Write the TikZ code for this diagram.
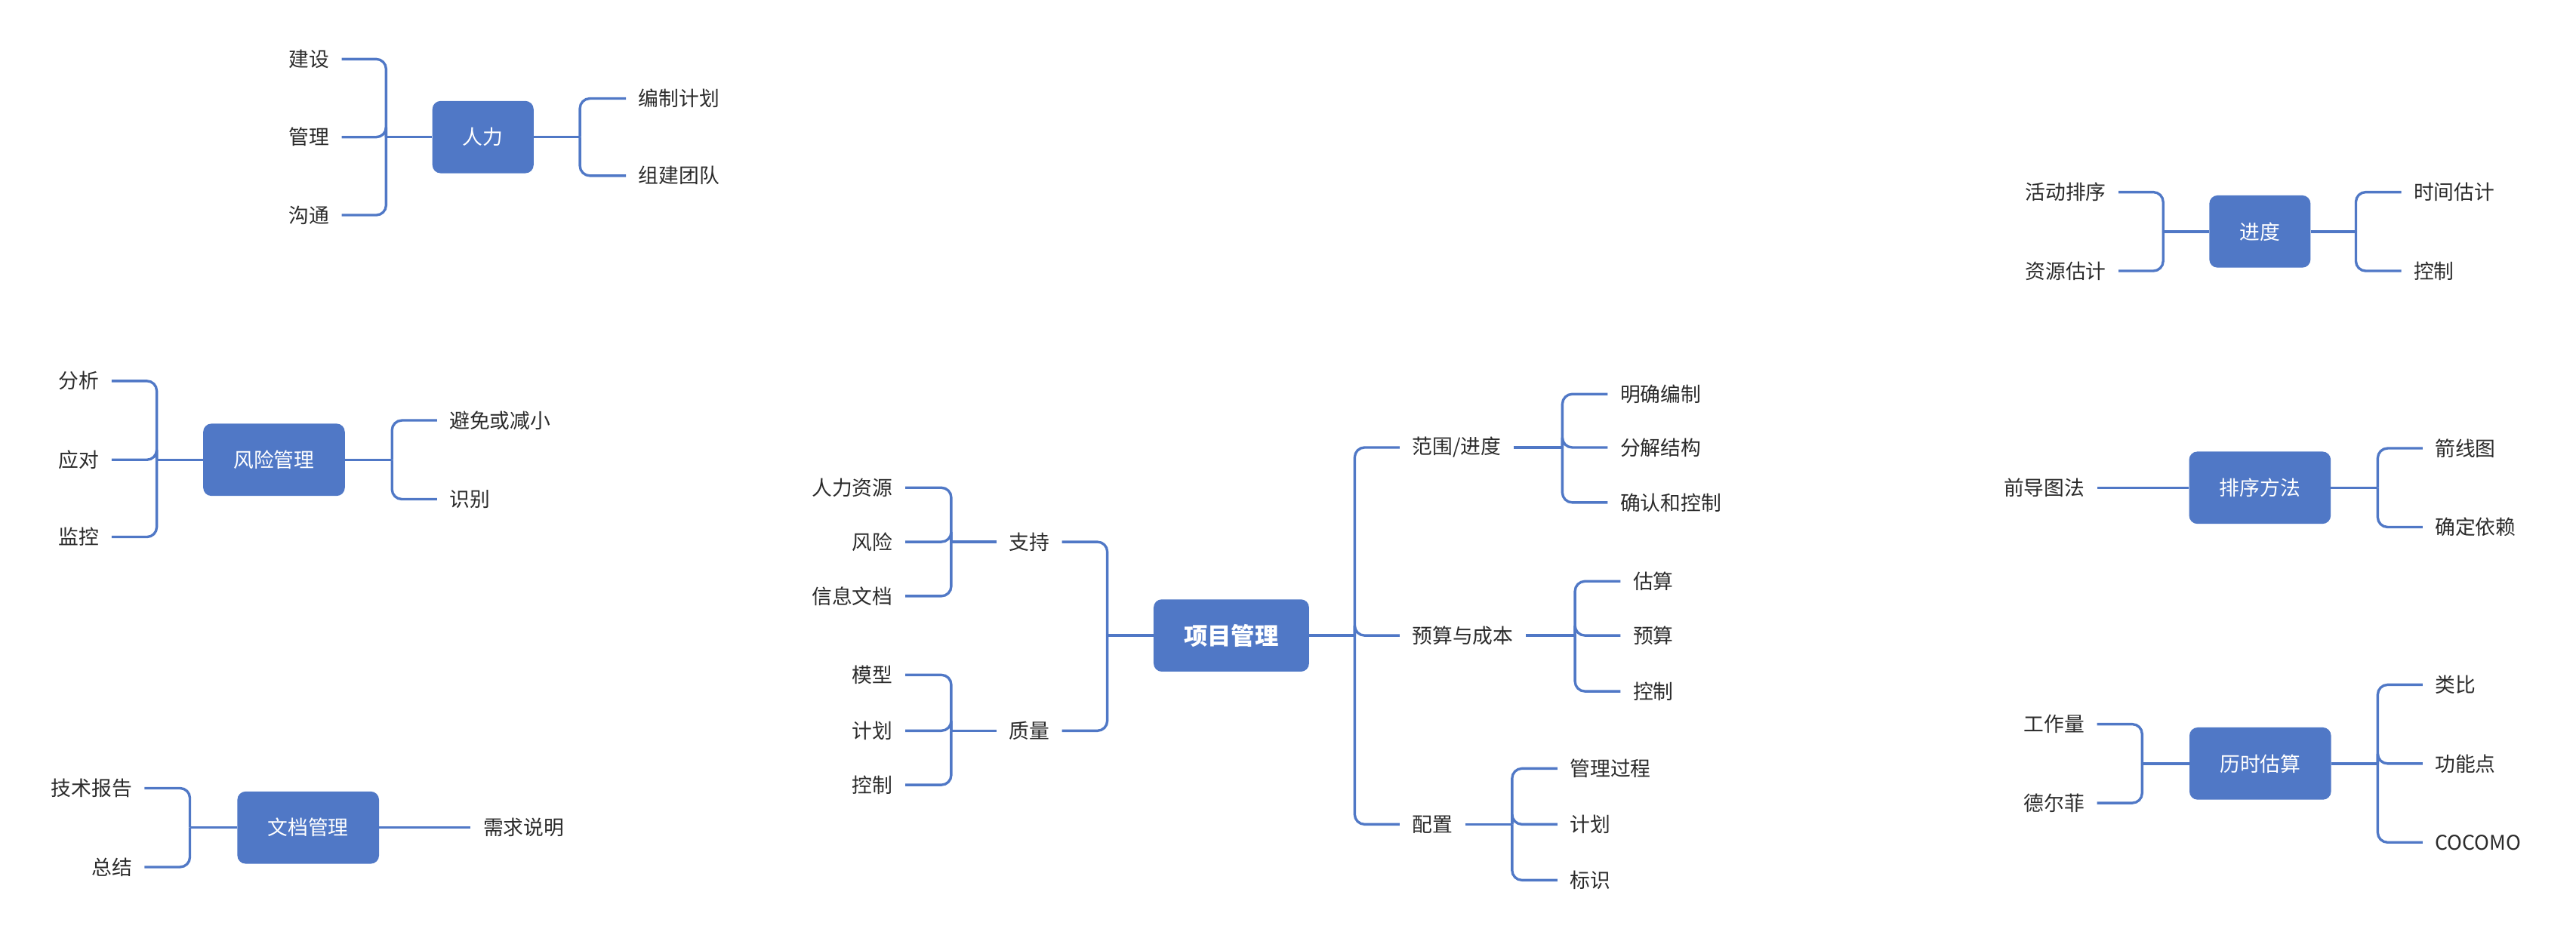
\documentclass[tikz,border=0pt]{standalone}
\usepackage{fontspec}
\setmainfont{Noto Sans CJK SC}
\usepackage{xcolor}
\usepackage{tikz}
\definecolor{mapblue}{HTML}{5078C6}
\definecolor{maptext}{HTML}{2B2B2B}
\tikzset{
  hub/.style={fill=mapblue, rounded corners=2.5mm, minimum height=22mm, inner xsep=9.25mm, text=white, font=\fontsize{17.5pt}{20pt}\selectfont},
  rootbox/.style={hub, font=\fontsize{20.5pt}{24pt}\selectfont\bfseries},
  leaf/.style={inner xsep=3.75mm, inner ysep=0pt, text=maptext, font=\fontsize{17.5pt}{20pt}\selectfont},
  branch/.style={draw=mapblue, line width=2.2pt, rounded corners=3mm}
}
\begin{document}
\begin{tikzpicture}[x=0.5mm, y=-0.5mm]
  \useasboundingbox (0,0) rectangle (1568,571);

  % 人力
  \node[hub] (staff) at (294,83.5) {人力};
  \node[leaf, anchor=east] (staffa) at (208,36) {建设};
  \node[leaf, anchor=east] (staffb) at (208,83.5) {管理};
  \node[leaf, anchor=east] (staffc) at (208,131) {沟通};
  \node[leaf, anchor=west] (staffd) at (381,60) {编制计划};
  \node[leaf, anchor=west] (staffe) at (381,107) {组建团队};
  \coordinate (staffL) at (235,83.5);
  \coordinate (staffR) at (353,83.5);
  \draw[branch] (staff.west) -- (staffL);
  \draw[branch] (staffL) |- (staffa.east);
  \draw[branch] (staffL) |- (staffb.east);
  \draw[branch] (staffL) |- (staffc.east);
  \draw[branch] (staff.east) -- (staffR);
  \draw[branch] (staffR) |- (staffd.west);
  \draw[branch] (staffR) |- (staffe.west);

  % 风险管理
  \node[hub] (risk) at (166.8,280) {风险管理};
  \node[leaf, anchor=east] (riska) at (68,232) {分析};
  \node[leaf, anchor=east] (riskb) at (68,280) {应对};
  \node[leaf, anchor=east] (riskc) at (68,327) {监控};
  \node[leaf, anchor=west] (riskd) at (266,256) {避免或减小};
  \node[leaf, anchor=west] (riske) at (266,304) {识别};
  \coordinate (riskL) at (95.4,280);
  \coordinate (riskR) at (238.6,280);
  \draw[branch] (risk.west) -- (riskL);
  \draw[branch] (riskL) |- (riska.east);
  \draw[branch] (riskL) |- (riskb.east);
  \draw[branch] (riskL) |- (riskc.east);
  \draw[branch] (risk.east) -- (riskR);
  \draw[branch] (riskR) |- (riskd.west);
  \draw[branch] (riskR) |- (riske.west);

  % 文档管理
  \node[hub] (docs) at (187.6,504) {文档管理};
  \node[leaf, anchor=east] (docsa) at (88,480) {技术报告};
  \node[leaf, anchor=east] (docsb) at (88,528) {总结};
  \node[leaf, anchor=west] (docsc) at (286.5,504) {需求说明};
  \coordinate (docsL) at (115.6,504);
  \draw[branch] (docs.west) -- (docsL);
  \draw[branch] (docsL) |- (docsa.east);
  \draw[branch] (docsL) |- (docsb.east);
  \draw[branch] (docs.east) -- (docsc.west);

  % 项目管理
  \node[hub, rootbox] (pm) at (749.5,387) {项目管理};
  \node[leaf, anchor=west] (support) at (606.5,330) {支持};
  \node[leaf, anchor=west] (quality) at (606.5,445) {质量};
  \node[leaf, anchor=west] (scope) at (852,272.5) {范围/进度};
  \node[leaf, anchor=west] (cost) at (852,387) {预算与成本};
  \node[leaf, anchor=west] (config) at (852,502) {配置};
  \coordinate (pmL) at (674,387);
  \coordinate (pmR) at (824.6,387);
  \draw[branch] (pm.west) -- (pmL);
  \draw[branch] (pmL) |- (support.east);
  \draw[branch] (pmL) |- (quality.east);
  \draw[branch] (pm.east) -- (pmR);
  \draw[branch] (pmR) |- (scope.west);
  \draw[branch] (pmR) |- (cost.west);
  \draw[branch] (pmR) |- (config.west);

  \node[leaf, anchor=east] (supporta) at (551,297) {人力资源};
  \node[leaf, anchor=east] (supportb) at (551,330) {风险};
  \node[leaf, anchor=east] (supportc) at (551,363) {信息文档};
  \coordinate (supportL) at (579,330);
  \draw[branch] (support.west) -- (supportL);
  \draw[branch] (supportL) |- (supporta.east);
  \draw[branch] (supportL) |- (supportb.east);
  \draw[branch] (supportL) |- (supportc.east);

  \node[leaf, anchor=east] (qualitya) at (551,411) {模型};
  \node[leaf, anchor=east] (qualityb) at (551,445) {计划};
  \node[leaf, anchor=east] (qualityc) at (551,478) {控制};
  \coordinate (qualityL) at (579,445);
  \draw[branch] (quality.west) -- (qualityL);
  \draw[branch] (qualityL) |- (qualitya.east);
  \draw[branch] (qualityL) |- (qualityb.east);
  \draw[branch] (qualityL) |- (qualityc.east);

  \node[leaf, anchor=west] (scopea) at (978.6,240) {明确编制};
  \node[leaf, anchor=west] (scopeb) at (978.6,272.5) {分解结构};
  \node[leaf, anchor=west] (scopec) at (978.6,306) {确认和控制};
  \coordinate (scopeR) at (951,272.5);
  \draw[branch] (scope.east) -- (scopeR);
  \draw[branch] (scopeR) |- (scopea.west);
  \draw[branch] (scopeR) |- (scopeb.west);
  \draw[branch] (scopeR) |- (scopec.west);

  \node[leaf, anchor=west] (costa) at (986.4,354) {估算};
  \node[leaf, anchor=west] (costb) at (986.4,387) {预算};
  \node[leaf, anchor=west] (costc) at (986.4,421) {控制};
  \coordinate (costR) at (958.7,387);
  \draw[branch] (cost.east) -- (costR);
  \draw[branch] (costR) |- (costa.west);
  \draw[branch] (costR) |- (costb.west);
  \draw[branch] (costR) |- (costc.west);

  \node[leaf, anchor=west] (configa) at (948,468) {管理过程};
  \node[leaf, anchor=west] (configb) at (948,502) {计划};
  \node[leaf, anchor=west] (configc) at (948,536) {标识};
  \coordinate (configR) at (920.4,502);
  \draw[branch] (config.east) -- (configR);
  \draw[branch] (configR) |- (configa.west);
  \draw[branch] (configR) |- (configb.west);
  \draw[branch] (configR) |- (configc.west);

  % 进度
  \node[hub] (sched) at (1375.6,141) {进度};
  \node[leaf, anchor=east] (scheda) at (1289.6,117) {活动排序};
  \node[leaf, anchor=east] (schedb) at (1289.6,165) {资源估计};
  \node[leaf, anchor=west] (schedc) at (1461.6,117) {时间估计};
  \node[leaf, anchor=west] (schedd) at (1461.6,165) {控制};
  \coordinate (schedL) at (1316.7,141);
  \coordinate (schedR) at (1434,141);
  \draw[branch] (sched.west) -- (schedL);
  \draw[branch] (schedL) |- (scheda.east);
  \draw[branch] (schedL) |- (schedb.east);
  \draw[branch] (sched.east) -- (schedR);
  \draw[branch] (schedR) |- (schedc.west);
  \draw[branch] (schedR) |- (schedd.west);

  % 排序方法
  \node[hub] (order) at (1375.6,297) {排序方法};
  \node[leaf, anchor=east] (ordera) at (1276.5,297) {前导图法};
  \node[leaf, anchor=west] (orderb) at (1474.6,273) {箭线图};
  \node[leaf, anchor=west] (orderc) at (1474.6,321) {确定依赖};
  \coordinate (orderR) at (1447.3,297);
  \draw[branch] (order.west) -- (ordera.east);
  \draw[branch] (order.east) -- (orderR);
  \draw[branch] (orderR) |- (orderb.west);
  \draw[branch] (orderR) |- (orderc.west);

  % 历时估算
  \node[hub] (dur) at (1375.8,465) {历时估算};
  \node[leaf, anchor=east] (dura) at (1276.5,441) {工作量};
  \node[leaf, anchor=east] (durb) at (1276.5,489) {德尔菲};
  \node[leaf, anchor=west] (durc) at (1474.6,417) {类比};
  \node[leaf, anchor=west] (durd) at (1474.6,465) {功能点};
  \node[leaf, anchor=west] (dure) at (1474.6,513) {COCOMO};
  \coordinate (durL) at (1303.9,465);
  \coordinate (durR) at (1447.3,465);
  \draw[branch] (dur.west) -- (durL);
  \draw[branch] (durL) |- (dura.east);
  \draw[branch] (durL) |- (durb.east);
  \draw[branch] (dur.east) -- (durR);
  \draw[branch] (durR) |- (durc.west);
  \draw[branch] (durR) |- (durd.west);
  \draw[branch] (durR) |- (dure.west);
\end{tikzpicture}
\end{document}
